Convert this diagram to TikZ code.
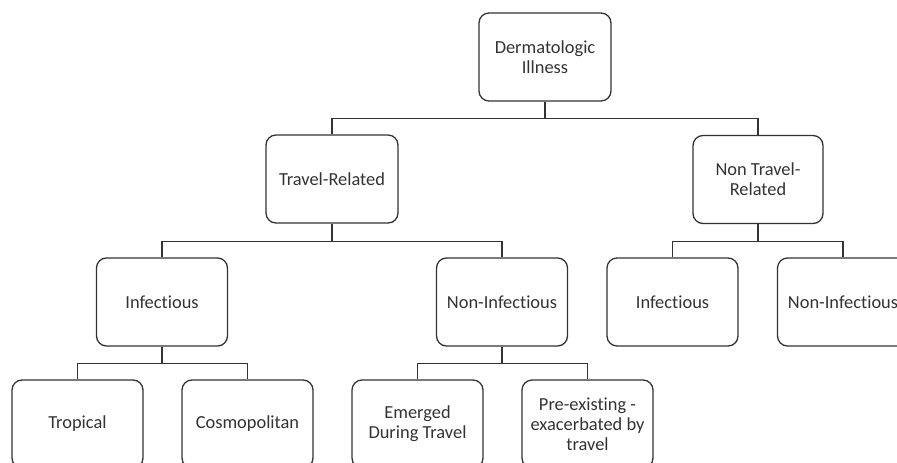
\documentclass[tikz,border=0pt]{standalone}
\usepackage{fontspec}
\setmainfont[Ligatures={NoCommon}]{Carlito}
\definecolor{ink}{HTML}{333333}
\begin{document}
\begin{tikzpicture}[x=1pt,y=-1pt,
  box/.style={draw=ink, line width=1.3pt, rounded corners=10pt, minimum width=131pt, minimum height=88pt,
    align=center, text=ink, inner sep=2pt, font=\fontsize{18.4}{19.8}\selectfont},
  conn/.style={draw=ink, line width=1.3pt}]
\useasboundingbox (0,0) rectangle (897,463);
\clip (0,0) rectangle (897,463);
\fill[white] (0,0) rectangle (897,463);
\node[box, minimum width=132pt] (root) at (545,57) {Dermatologic\\Illness};
\node[box, minimum width=132pt] (tr) at (332,179) {Travel-Related};
\node[box, minimum width=130pt] (ntr) at (758,179.5) {Non Travel-\\Related};
\node[box] (inf1) at (162,302) {Infectious};
\node[box] (ninf1) at (502,302) {Non-Infectious};
\node[box] (inf2) at (672.5,302) {Infectious};
\node[box] (ninf2) at (843,302) {Non-Infectious};
\node[box] (trop) at (77.5,424) {Tropical};
\node[box] (cosmo) at (247.5,424) {Cosmopolitan};
\node[box] (emerg) at (417.5,424) {Emerged\\During Travel};
\node[box] (pre) at (587.5,424) {Pre-existing -\\exacerbated by\\travel};
% connectors
\draw[conn] (root.south) -- ++(0,17) coordinate (j1);
\draw[conn] (j1) -| (tr.north);
\draw[conn] (j1) -| (ntr.north);
\draw[conn] (tr.south) -- ++(0,17.5) coordinate (j2);
\draw[conn] (j2) -| (inf1.north);
\draw[conn] (j2) -| (ninf1.north);
\draw[conn] (ntr.south) -- ++(0,17.5) coordinate (j3);
\draw[conn] (j3) -| (inf2.north);
\draw[conn] (j3) -| (ninf2.north);
\draw[conn] (inf1.south) -- ++(0,16.5) coordinate (j4);
\draw[conn] (j4) -| (trop.north);
\draw[conn] (j4) -| (cosmo.north);
\draw[conn] (ninf1.south) -- ++(0,16.5) coordinate (j5);
\draw[conn] (j5) -| (emerg.north);
\draw[conn] (j5) -| (pre.north);
\end{tikzpicture}
\end{document}
